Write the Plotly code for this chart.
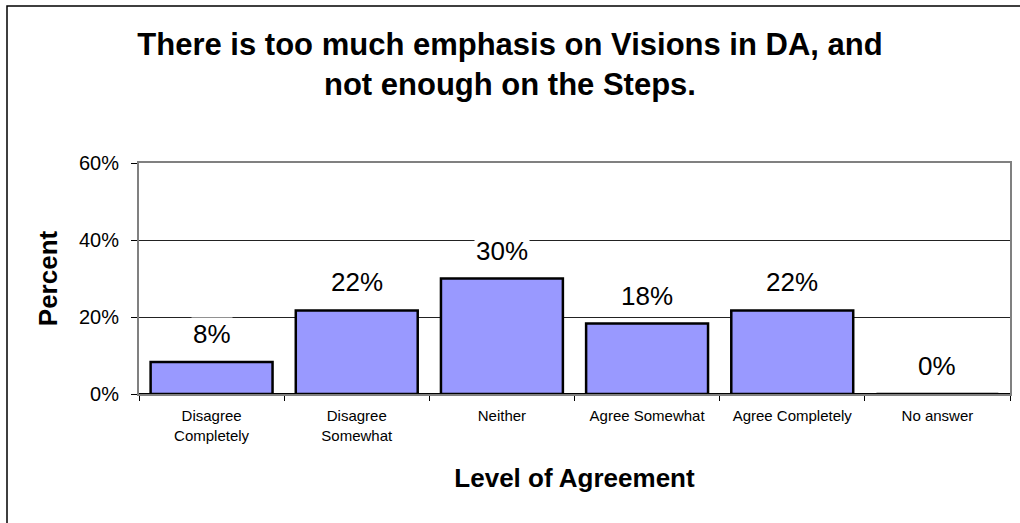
import plotly.graph_objects as go

categories = ["Disagree<br>Completely", "Disagree<br>Somewhat", "Neither",
              "Agree Somewhat", "Agree Completely", "No answer"]
values = [8.3, 21.7, 30.0, 18.3, 21.7, 0.0]
labels = ["8%", "22%", "30%", "18%", "22%", "0%"]
y_ticks = [0, 20, 40, 60]
y_tick_labels = ["0%", "20%", "40%", "60%"]

FONT = "Liberation Sans, Arial, sans-serif"
W, H = 1020, 523
L, R, T, B = 139, 10, 163, 129
PW, PH = W - L - R, H - T - B

fig = go.Figure()
fig.add_trace(go.Bar(
    x=categories, y=values,
    marker=dict(color="#9999FF", line=dict(color="#000000", width=2.5)),
    hoverinfo="skip",
))

for c, v, t in zip(categories, values, labels):
    fig.add_annotation(x=c, y=v, text=t, showarrow=False, yanchor="middle",
                       yshift=28, bgcolor="white", borderpad=1,
                       font=dict(family=FONT, size=26, color="#000000"))

fig.update_layout(
    width=W, height=H,
    margin=dict(l=L, r=R, t=T, b=B, autoexpand=False),
    paper_bgcolor="white", plot_bgcolor="white",
    showlegend=False, bargap=0.16,
    title=dict(text="There is too much emphasis on Visions in DA, and<br>not enough on the Steps.",
               x=0.5, xanchor="center", y=0.895, yanchor="top",
               font=dict(family=FONT, size=31, color="#000000", weight="bold")),
    font=dict(family=FONT, color="#000000"),
)

fig.update_xaxes(
    showline=True, linecolor="#808080", linewidth=2, mirror=True,
    ticks="outside", tickson="boundaries", ticklen=5, tickcolor="#000000",
    ticklabelstandoff=7,
    tickfont=dict(family=FONT, size=15, color="#000000"),
    title=dict(text="Level of Agreement", standoff=26,
               font=dict(family=FONT, size=26, color="#000000", weight="bold")),
    showgrid=False, automargin=False,
)
fig.update_yaxes(
    range=[0, 60], tickvals=y_ticks, ticktext=y_tick_labels,
    showline=True, linecolor="#808080", linewidth=2, mirror=True,
    ticks="outside", ticklen=6, tickcolor="#000000",
    ticklabelstandoff=8,
    tickfont=dict(family=FONT, size=20, color="#000000"),
    showgrid=True, gridcolor="#222222", gridwidth=1,
    zeroline=True, zerolinecolor="#000000", zerolinewidth=2,
    title=dict(text="Percent", standoff=14,
               font=dict(family=FONT, size=26, color="#000000", weight="bold")),
    automargin=False,
)

# outer chart border (only top and left edges are visible in the frame)
fig.add_shape(type="rect", xref="paper", yref="paper",
              x0=(7 - L) / PW, x1=(W + 20 - L) / PW,
              y0=(H - B - (H + 20)) / PH, y1=(H - B - 6) / PH,
              line=dict(color="#000000", width=1.5), fillcolor="rgba(0,0,0,0)",
              layer="below")

fig.write_html("out.html", config={"displayModeBar": False},
               post_script="document.body.style.margin='0';document.body.style.overflow='hidden';")
